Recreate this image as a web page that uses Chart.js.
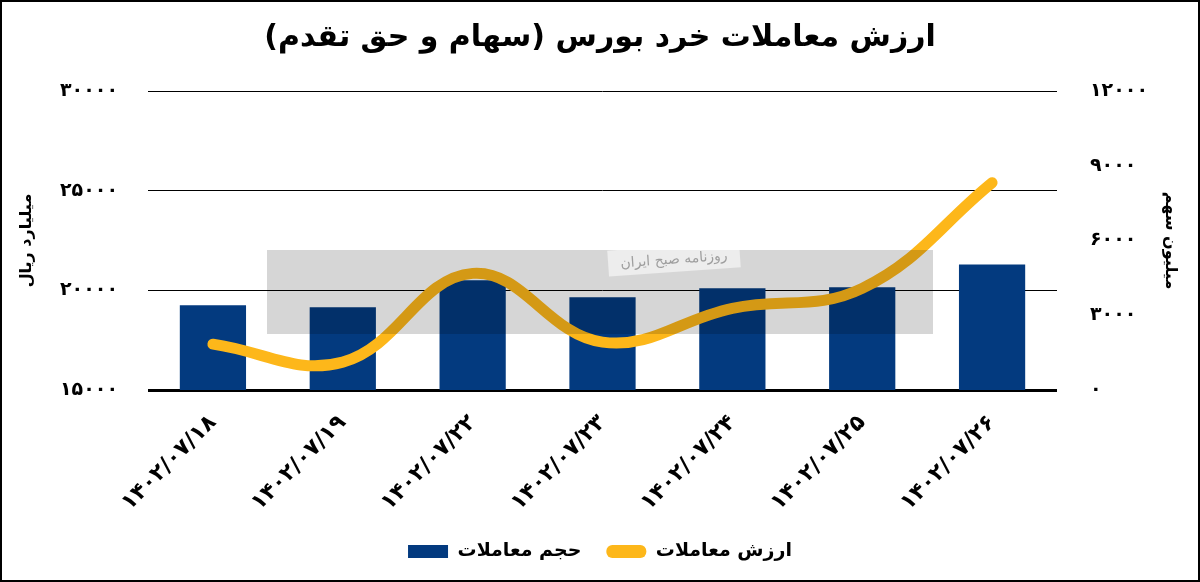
<!DOCTYPE html>
<html lang="fa">
<head>
<meta charset="utf-8">
<script src="https://cdn.jsdelivr.net/npm/chart.js@4.4.0/dist/chart.umd.min.js"></script>
<style>
  html, body { margin: 0; padding: 0; background: #fff; }
  canvas { display: block; }
</style>
</head>
<body>
<canvas id="chart" dir="rtl" width="1200" height="582"></canvas>
<script>
// dates (Persian calendar)
const categories = ['۱۴۰۲/۰۷/۱۸', '۱۴۰۲/۰۷/۱۹', '۱۴۰۲/۰۷/۲۲', '۱۴۰۲/۰۷/۲۳', '۱۴۰۲/۰۷/۲۴', '۱۴۰۲/۰۷/۲۵', '۱۴۰۲/۰۷/۲۶']
// volume, million shares (bars, right axis)
const volumeValues = [3400, 3320, 4400, 3720, 4080, 4120, 5040]
// value, billion rials (line, left axis)
const valueValues = [17300, 16400, 20850, 17400, 19100, 20100, 25400]
const leftAxis = { min: 15000, max: 30000, step: 5000 }
const rightAxis = { min: 0, max: 12000, step: 3000 }

const FONT = "'DejaVu Sans', 'Noto Sans', sans-serif"
const faDigits = v => String(v).replace(/\d/g, d => '۰۱۲۳۴۵۶۷۸۹'[d])

// page frame + the newspaper watermark band
const decor = {
    id: 'decor',
    afterDatasetsDraw(chart) {
        const ctx = chart.ctx
        ctx.save()
        ctx.fillStyle = 'rgba(0,0,0,0.16)'
        ctx.fillRect(267, 250, 666, 84)
        ctx.translate(674, 259)
        ctx.rotate(-0.07)
        ctx.fillStyle = 'rgba(255,255,255,0.55)'
        ctx.fillRect(-66, -13, 132, 26)
        ctx.fillStyle = 'rgba(150,150,150,0.9)'
        ctx.font = '14px ' + FONT
        ctx.textAlign = 'center'
        ctx.textBaseline = 'middle'
        ctx.fillText('روزنامه صبح ایران', 0, 1)
        ctx.restore()
    },
    afterDraw(chart) {
        const ctx = chart.ctx
        ctx.save()
        ctx.strokeStyle = '#000'
        ctx.lineWidth = 2
        ctx.strokeRect(1, 1, chart.width - 2, chart.height - 2)
        ctx.restore()
    }
}

const canvas = document.getElementById('chart')
new Chart(canvas, {
    data: {
        labels: categories,
        datasets: [
            {
                type: 'bar',
                label: 'حجم معاملات',
                data: volumeValues,
                yAxisID: 'y1',
                backgroundColor: '#033a7f',
                barPercentage: 0.51,
                categoryPercentage: 1,
                order: 1
            },
            {
                type: 'line',
                label: 'ارزش معاملات',
                data: valueValues,
                yAxisID: 'y',
                borderColor: '#fdb71a',
                backgroundColor: '#fdb71a',
                borderWidth: 11,
                borderCapStyle: 'round',
                tension: 0.4,
                pointRadius: 0,
                order: 0
            }
        ]
    },
    options: {
        responsive: false,
        animation: false,
        layout: { padding: { left: 0, right: 0, top: 0, bottom: 11 } },
        plugins: {
            title: {
                display: true,
                text: 'ارزش معاملات خرد بورس (سهام و حق تقدم)',
                color: '#000',
                font: { family: FONT, size: 30, weight: 'bold' },
                padding: { top: 20, bottom: 35 }
            },
            legend: {
                position: 'bottom',
                labels: {
                    color: '#000',
                    font: { family: FONT, size: 19, weight: 'bold' },
                    boxWidth: 40,
                    boxHeight: 13,
                    padding: 25,
                    sort: (a, b) => a.datasetIndex - b.datasetIndex,
                    generateLabels(chart) {
                        const items = Chart.defaults.plugins.legend.labels.generateLabels(chart)
                        items.forEach(it => {
                            if (chart.data.datasets[it.datasetIndex].type === 'line') {
                                it.lineWidth = 0
                                it.borderRadius = 6
                            }
                        })
                        return items
                    }
                }
            },
            tooltip: { enabled: false }
        },
        scales: {
            x: {
                grid: { display: false },
                border: { display: false },
                ticks: {
                    color: '#000',
                    font: { family: FONT, size: 22, weight: 'bold' },
                    minRotation: 45,
                    maxRotation: 45,
                    autoSkip: false,
                    padding: 12
                },
                afterFit(scale) { scale.height = 127 }
            },
            y: {
                position: 'left',
                min: leftAxis.min,
                max: leftAxis.max,
                ticks: {
                    stepSize: leftAxis.step,
                    color: '#000',
                    font: { family: FONT, size: 19, weight: 'bold' },
                    padding: 30,
                    callback: v => faDigits(v)
                },
                grid: {
                    color: '#000',
                    drawTicks: false,
                    lineWidth: c => c.tick && c.tick.value === leftAxis.min ? 3 : 1
                },
                border: { display: false },
                title: {
                    display: true,
                    text: 'میلیارد ریال',
                    color: '#000',
                    font: { family: FONT, size: 16, weight: 'bold' },
                    padding: { top: 17, bottom: 0 }
                },
                afterFit(scale) { scale.width = 148 }
            },
            y1: {
                position: 'right',
                min: rightAxis.min,
                max: rightAxis.max,
                ticks: {
                    stepSize: rightAxis.step,
                    color: '#000',
                    font: { family: FONT, size: 19, weight: 'bold' },
                    padding: 33,
                    callback: v => faDigits(v)
                },
                grid: { display: false, drawTicks: false },
                border: { display: false },
                title: {
                    display: true,
                    text: 'میلیون سهم',
                    color: '#000',
                    font: { family: FONT, size: 16, weight: 'bold' },
                    padding: { top: 20, bottom: 0 }
                },
                afterFit(scale) { scale.width = 143 }
            }
        }
    },
    plugins: [decor]
})
</script>
</body>
</html>
